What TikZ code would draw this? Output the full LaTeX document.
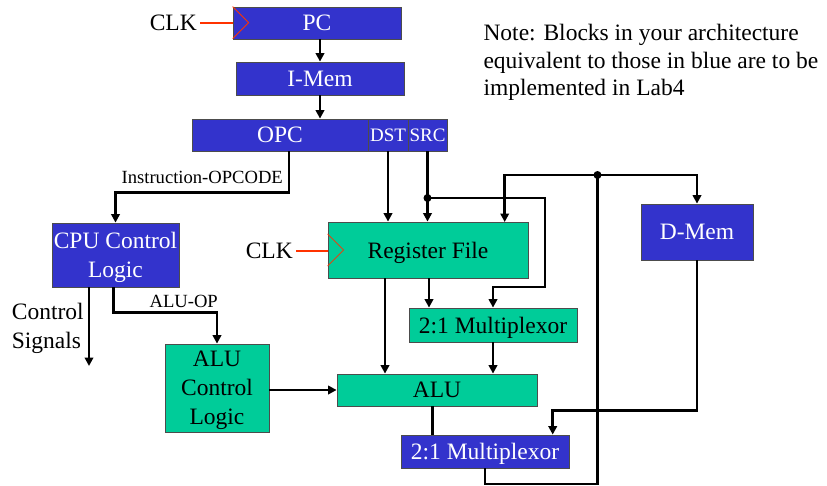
\documentclass[tikz,border=0pt]{standalone}
\usepackage{fontspec}
\setmainfont{Liberation Serif}
\usetikzlibrary{arrows.meta,calc}
\definecolor{bblue}{HTML}{3333CC}
\definecolor{bgreen}{HTML}{00CC99}
\definecolor{clkred}{HTML}{FF3300}
\begin{document}
\begin{tikzpicture}[x=1pt,y=-1pt,
  box/.style={draw=black!70, line width=0.8pt, inner sep=0pt, align=center,
    text depth=0pt, font=\fontsize{23.5}{29}\selectfont},
  bluebox/.style={box, fill=bblue, text=white},
  greenbox/.style={box, fill=bgreen, text=black},
  wire/.style={draw=black, line width=2.7pt},
  arr/.style={wire, -{Triangle[length=8.5pt,width=8.5pt]}},
  clkline/.style={draw=clkred, line width=2pt},
  chev/.style={draw=clkred, line width=0.8pt},
  txt/.style={inner sep=0pt, font=\fontsize{23.5}{28.5}\selectfont},
  lbl/.style={inner sep=0pt, font=\fontsize{18.6}{20}\selectfont},
  small/.style={font=\fontsize{19}{20}\selectfont},
  dot/.style={fill=black}]
\useasboundingbox (0,0) rectangle (827,485);

% blocks
\node[bluebox, minimum width=168pt, minimum height=32pt] (pc) at (317,23) {PC};
\node[bluebox, minimum width=168pt, minimum height=33pt] (imem) at (320,78.5) {I-Mem};
\node[bluebox, minimum width=176pt, minimum height=32pt] (opc) at (280,135) {OPC};
\node[bluebox, small, minimum width=40pt, minimum height=32pt] (dst) at (388,135) {DST};
\node[bluebox, small, minimum width=39pt, minimum height=32pt] (src) at (427.5,135) {SRC};
\node[bluebox, minimum width=127pt, minimum height=64pt] (cpu) at (115.5,255) {CPU Control\\Logic};
\node[greenbox, minimum width=200pt, minimum height=56pt] (rf) at (428,250) {Register File};
\node[bluebox, minimum width=112pt, minimum height=56pt] (dmem) at (697,232) {D-Mem};
\node[greenbox, minimum width=168pt, minimum height=34pt] (mux1) at (493,325) {2:1 Multiplexor};
\node[greenbox, minimum width=104pt, minimum height=88pt] (alucl) at (217,388) {ALU\\Control\\Logic};
\node[greenbox, minimum width=200pt, minimum height=32pt] (alu) at (437,390) {ALU};
\node[bluebox, minimum width=168pt, minimum height=33pt] (mux2) at (485,451.5) {2:1 Multiplexor};

% texts
\node[txt, anchor=east] (clk1) at (197,23) {CLK};
\node[txt, anchor=east] (clk2) at (293,251) {CLK};
\node[txt, anchor=base west] (note1) at (483.3,40) {Note: Blocks in your architecture};
\node[txt, anchor=base west] (note2) at (483.3,68) {equivalent to those in blue are to be};
\node[txt, anchor=base west] (note3) at (483.3,95.5) {implemented in Lab4};
\node[txt, anchor=base west] (ctl1) at (11.7,319) {Control};
\node[txt, anchor=base west] (ctl2) at (11.7,348) {Signals};
\node[lbl, anchor=base east] (lopc) at (283,183) {Instruction-OPCODE};
\node[lbl, anchor=base east] (laluop) at (218,307) {ALU-OP};

% clocks
\draw[clkline, shorten <=3pt] (clk1.east) -- (pc.west);
\draw[clkline, shorten <=3pt] (clk2.east) -- (rf.west |- clk2.east);
\draw[chev] (pc.north west) -- ++(16,16) -- ++(-16,16);
\draw[chev] ([yshift=16pt]rf.west) -- ([xshift=16pt]rf.west) -- ([yshift=-16pt]rf.west);

% coordinates
\coordinate (j1) at (427.5,198);
\coordinate (j2) at (597.5,175);
\coordinate (c1) at (545,287);
\coordinate (rfin) at (504.7,222);
\coordinate (bot) at (485,484);
\coordinate (c2) at (552.7,410.7);
\coordinate (sigend) at (89,366);
\coordinate (rfout) at (385,278);

% connectors
\draw[arr] (imem.north |- pc.south) -- (imem.north);
\draw[arr] (imem.south) -- (imem.south |- opc.north);
\draw[arr] ([xshift=9pt]opc.south) -- ++(0,41) -| (cpu.north);
\draw[arr] (dst.south) -- (dst.south |- rf.north);
\draw[arr] (src.south) -- (src.south |- rf.north);
\draw[arr] (j1) -| (c1) -| (mux1.north);
\draw[arr] (j2) -| (dmem.north);
\draw[arr] (j2) -| (rfin);
\draw[wire] (mux2.south) -- (bot) -| (j2);
\draw[arr] (dmem.south) |- (c2) -- (c2 |- mux2.north);
\draw[arr] ([xshift=1pt]rf.south) -- ([xshift=1pt]rf.south |- mux1.north);
\draw[arr] (rfout) -- (rfout |- alu.north);
\draw[arr] (mux1.south) -- (mux1.south |- alu.north);
\draw[wire] ([xshift=-4.3pt]alu.south) -- ([xshift=-4.3pt]alu.south |- mux2.north);
\draw[arr] (alucl.east |- alu.west) -- (alu.west);
\draw[arr] ([xshift=-2pt]cpu.south) -- ++(0,25) -| (alucl.north);
\draw[arr] (sigend |- cpu.south) -- (sigend);

\fill[dot] (j1) circle (4pt);
\fill[dot] (j2) circle (4pt);
\end{tikzpicture}
\end{document}
